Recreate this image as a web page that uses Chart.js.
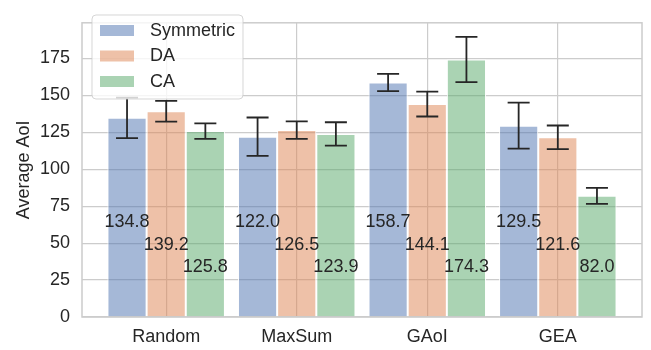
<!DOCTYPE html>
<html>
<head>
<meta charset="utf-8">
<script src="https://cdn.jsdelivr.net/npm/chart.js@4"></script>
<style>
  html, body { margin: 0; padding: 0; background: #fff; }
  #wrap { width: 651px; height: 350px; }
</style>
</head>
<body>
<div id="wrap"><canvas id="chart" width="651" height="350"></canvas></div>
<script>
// data
const categories = ['Random', 'MaxSum', 'GAoI', 'GEA'];
const seriesNames = ['Symmetric', 'DA', 'CA'];
const symValues = [134.8, 122.0, 158.7, 129.5];
const daValues = [139.2, 126.5, 144.1, 121.6];
const caValues = [125.8, 123.9, 174.3, 82.0];
const symErr = [13.7, 13.0, 5.8, 15.6];
const daErr = [7.0, 5.9, 8.4, 8.0];
const caErr = [5.3, 7.9, 15.3, 5.4];
const yTicks = [0, 25, 50, 75, 100, 125, 150, 175];
// y positions of the in-bar value labels, per series
const labelY = [64, 49, 33.5];

const font = '"Liberation Sans", Arial, sans-serif';
const textColor = '#262626';
const gridColor = '#cccccc';
const fills = ['rgba(76,114,176,0.5)', 'rgba(221,132,82,0.5)', 'rgba(85,168,104,0.5)'];

const allValues = [symValues, daValues, caValues];
const allErr = [symErr, daErr, caErr];

const datasets = allValues.map((vals, s) => ({
  label: seriesNames[s],
  data: vals.map((v, i) => ({ x: i, y: v })),
  backgroundColor: fills[s],
  borderColor: 'rgba(255,255,255,0.9)',
  borderWidth: 1,
  borderSkipped: 'bottom',
  categoryPercentage: 0.9,
  barPercentage: 1.0
}));

// error bars + value labels
const errorBars = {
  id: 'errorBars',
  afterDatasetsDraw(chart) {
    const { ctx, scales: { y } } = chart;
    ctx.save();
    ctx.strokeStyle = '#262626';
    ctx.lineWidth = 1.8;
    allErr.forEach((errs, s) => {
      const meta = chart.getDatasetMeta(s);
      meta.data.forEach((bar, i) => {
        const v = allValues[s][i];
        const top = y.getPixelForValue(v + errs[i]);
        const bot = y.getPixelForValue(v - errs[i]);
        const x = bar.x;
        ctx.beginPath();
        ctx.moveTo(x, top); ctx.lineTo(x, bot);
        ctx.moveTo(x - 11, top); ctx.lineTo(x + 11, top);
        ctx.moveTo(x - 11, bot); ctx.lineTo(x + 11, bot);
        ctx.stroke();
      });
    });
    ctx.fillStyle = textColor;
    ctx.font = '18px ' + font;
    ctx.textAlign = 'center';
    ctx.textBaseline = 'middle';
    allValues.forEach((vals, s) => {
      const meta = chart.getDatasetMeta(s);
      meta.data.forEach((bar, i) => {
        ctx.fillText(vals[i].toFixed(1), bar.x, y.getPixelForValue(labelY[s]));
      });
    });
    ctx.restore();
  }
};

// frame + legend drawn over everything
const frameLegend = {
  id: 'frameLegend',
  afterDraw(chart) {
    const { ctx, chartArea: a } = chart;
    ctx.save();
    ctx.strokeStyle = gridColor;
    ctx.lineWidth = 1.5;
    ctx.strokeRect(a.left, a.top, a.right - a.left, a.bottom - a.top);

    const lx = 92, ly = 15, lw = 151, lh = 84;
    ctx.beginPath();
    ctx.roundRect(lx, ly, lw, lh, 4);
    ctx.fillStyle = 'rgba(255,255,255,0.8)';
    ctx.fill();
    ctx.strokeStyle = 'rgba(204,204,204,0.8)';
    ctx.lineWidth = 1;
    ctx.stroke();

    ctx.font = '18px ' + font;
    ctx.textBaseline = 'middle';
    ctx.textAlign = 'left';
    seriesNames.forEach((name, s) => {
      const cy = 30 + s * 25.5;
      ctx.fillStyle = fills[s];
      ctx.fillRect(100, cy - 5, 34, 11);
      ctx.fillStyle = textColor;
      ctx.fillText(name, 150, cy + 1);
    });
    ctx.restore();
  }
};

new Chart(document.getElementById('chart'), {
  type: 'bar',
  data: { datasets },
  options: {
    responsive: false,
    animation: false,
    layout: { padding: { top: 6, right: 9, left: 0, bottom: 0 } },
    plugins: { legend: { display: false }, tooltip: { enabled: false } },
    scales: {
      x: {
        type: 'linear',
        min: -0.645,
        max: 3.645,
        offset: false,
        afterBuildTicks: scale => { scale.ticks = categories.map((c, i) => ({ value: i })); },
        afterFit: scale => { scale.height = 33; },
        ticks: {
          callback: v => categories[v],
          font: { family: font, size: 18 },
          color: textColor,
          padding: 9,
          maxRotation: 0
        },
        grid: { color: gridColor, lineWidth: 1.2, drawTicks: false, offset: false },
        border: { display: false }
      },
      y: {
        min: 0,
        max: 199.1,
        afterBuildTicks: scale => { scale.ticks = yTicks.map(v => ({ value: v })); },
        afterFit: scale => { scale.width = 82; },
        ticks: {
          font: { family: font, size: 18 },
          color: textColor,
          padding: 12
        },
        grid: { color: gridColor, lineWidth: 1.2, drawTicks: false },
        border: { display: false },
        title: {
          display: true,
          text: 'Average AoI',
          font: { family: font, size: 18 },
          color: textColor,
          padding: { top: 13, bottom: 0 }
        }
      }
    }
  },
  plugins: [errorBars, frameLegend]
});
</script>
</body>
</html>
